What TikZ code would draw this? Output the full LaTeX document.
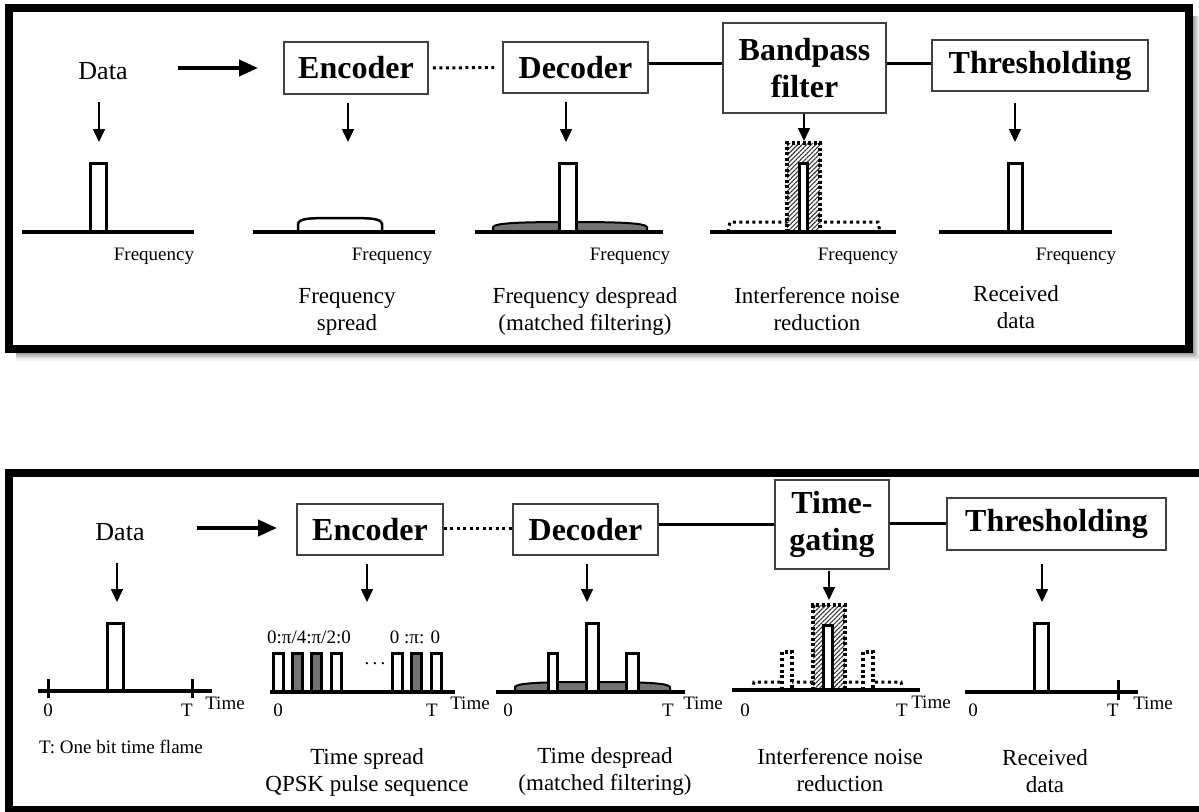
\documentclass[tikz,border=0pt]{standalone}
\usepackage{fontspec}
\setmainfont{Liberation Serif}
\usetikzlibrary{arrows.meta,patterns.meta}
\newcommand\FData{\fontsize{26}{28}\selectfont}
\newcommand\FBx{\fontsize{32}{37}\selectfont\bfseries}
\newcommand\FAx{\fontsize{19}{21}\selectfont}
\newcommand\FCap{\fontsize{23}{27}\selectfont}
\begin{document}
\begin{tikzpicture}[x=1pt,y=-1pt,
  box/.style={draw=black!75, line width=1.8pt, fill=white, font=\FBx, inner sep=0pt, align=center},
  lbl/.style={font=\FData, inner sep=0pt},
  ax/.style={font=\FAx, inner sep=0pt},
  captxt/.style={font=\FCap, align=center, inner sep=0pt},
  darr/.style={line width=1.6pt, -{Triangle[length=13pt,width=12pt]}},
  bigarr/.style={line width=4pt, -{Triangle[length=19pt,width=16pt]}},
  baseln/.style={line width=3.5pt},
  pulse/.style={line width=3pt, fill=white},
  gpulse/.style={line width=3pt, fill=black!55},
  dotl/.style={line width=3pt, dash pattern=on 3pt off 3.5pt},
  dotp/.style={line width=3.2pt, dash pattern=on 3pt off 2.8pt},
  hatch/.style={pattern={Lines[angle=45,distance=3.2pt,line width=1.1pt]}, pattern color=black!80, line width=3.5pt, dash pattern=on 3pt off 2.5pt},
  frm/.style={line width=8pt},
  conn/.style={line width=3pt}
]
\useasboundingbox (0,0) rectangle (1199,811);
\clip (0,0) rectangle (1199,811);
\fill[white] (0,0) rectangle (1199,811);

% ---------- frames ----------
\foreach \i/\g in {1/38,2/32,3/26,4/20,5/14,6/9,7/5}{
  \draw[black!\g, line width=1.2pt] (16,353+\i) -- (1193+\i,353+\i) -- (1193+\i,16);
}
\draw[frm] (9,8) rectangle (1189,349);
\draw[frm] (9,473) rectangle (1212,810);

% ================= TOP PANEL =================
\node[lbl] (data) at (103,71) {Data};
\node[box, minimum width=144pt, minimum height=52pt] (enc) at (356,68) {Encoder};
\node[box, minimum width=145pt, minimum height=51pt] (dec) at (575.5,67.5) {Decoder};
\node[box, minimum width=163pt, minimum height=90pt] (bpf) at (804.5,68) {Bandpass\\filter};
\node[box, minimum width=216pt, minimum height=51pt] (thr) at (1040,65.5) {Thresholding};

\coordinate (ha) at (178,68);
\coordinate (hb) at (258,68);
\draw[bigarr] (ha) -- (hb);
\draw[dotl] ([xshift=4pt]enc.east) -- ([xshift=-8pt]dec.west);
\draw[conn] ([yshift=4.5pt]dec.east) -- ([yshift=4.5pt]dec.east -| bpf.west);
\draw[conn] ([yshift=2.5pt]thr.west -| bpf.east) -- ([yshift=2.5pt]thr.west);

% down arrows
\coordinate (t1s) at (99,102);  \coordinate (t1e) at (99,142);
\coordinate (t2e) at (348,142);
\coordinate (t3e) at (566,142);
\coordinate (t4e) at (804,141);
\coordinate (t5e) at (1015,142);
\draw[darr] (t1s) -- (t1e);
\draw[darr] ([xshift=-8pt,yshift=-8pt]enc.south) -- (t2e);
\draw[darr] ([xshift=-9.5pt,yshift=-8.5pt]dec.south) -- (t3e);
\draw[darr] ([xshift=-0.5pt]bpf.south) -- (t4e);
\draw[darr] ([xshift=-25pt,yshift=-11pt]thr.south) -- (t5e);

% plot 1
\draw[pulse] (90,232) -- (90,163) -- (106,163) -- (106,232);
\draw[baseln] (22,232) -- (194,232);
% plot 2
\draw[line width=2.5pt, fill=white] (298,232) -- (298,224) .. controls (299,218) and (310,218) .. (340,218) .. controls (370,218) and (381,218) .. (382,224) -- (382,232);
\draw[baseln] (253,232) -- (435,232);
% plot 3
\draw[line width=2pt, fill=black!55] (493,232) -- (493,227) .. controls (495,223) and (520,222) .. (570,222) .. controls (620,222) and (645,223) .. (647,227) -- (647,232);
\draw[pulse] (559,232) -- (559,163) -- (576,163) -- (576,232);
\draw[baseln] (475,232) -- (663,232);
% plot 4
\draw[dotl] (728,232) -- (730,222) -- (878,222) -- (880,232);
\fill[white] (787,143) rectangle (820,232);
\draw[hatch] (787,232) -- (787,143) -- (820,143) -- (820,232);
\draw[pulse] (799,232) -- (799,163) -- (807,163) -- (807,232);
\draw[baseln] (710,232) -- (896,232);
% plot 5
\draw[pulse] (1008,232) -- (1008,163) -- (1022,163) -- (1022,232);
\draw[baseln] (939,232) -- (1112,232);

% labels
\node[ax] (f1) at (154,256) {Frequency};
\node[ax] (f2) at (392,256) {Frequency};
\node[ax] (f3) at (630,256) {Frequency};
\node[ax] (f4) at (858,256) {Frequency};
\node[ax] (f5) at (1076,256) {Frequency};
\node[captxt] (c2) at (347,311.5) {Frequency\\spread};
\node[captxt] (c3) at (585,311) {Frequency despread\\(matched filtering)};
\node[captxt] (c4) at (817,309.5) {Interference noise\\reduction};
\node[captxt] (c5) at (1016,307) {Received\\data};

% ================= BOTTOM PANEL =================
\node[lbl] (data2) at (120,532) {Data};
\node[box, minimum width=146pt, minimum height=51pt] (enc2) at (370,529.5) {Encoder};
\node[box, minimum width=145pt, minimum height=51pt] (dec2) at (585.5,529.5) {Decoder};
\node[box, minimum width=114pt, minimum height=89pt] (tg) at (832,524.5) {Time-\\gating};
\node[box, minimum width=219pt, minimum height=52pt] (thr2) at (1056.5,524) {Thresholding};

\coordinate (ha2) at (197,528);
\coordinate (hb2) at (277,528);
\draw[bigarr] (ha2) -- (hb2);
\draw[dotl] ([yshift=1.5pt]enc2.east) -- ([yshift=1.5pt]dec2.west);
\draw[conn] ([yshift=5.5pt]dec2.east) -- ([yshift=5.5pt]dec2.east -| tg.west);
\draw[conn] ([yshift=1pt]thr2.west -| tg.east) -- ([yshift=1pt]thr2.west);

\coordinate (b1s) at (117,563);  \coordinate (b1e) at (117,602);
\coordinate (b2e) at (367,602);
\coordinate (b3e) at (587,602);
\coordinate (b4e) at (829,600);
\coordinate (b5e) at (1042,602);
\draw[darr] (b1s) -- (b1e);
\draw[darr] ([xshift=-3pt,yshift=-8pt]enc2.south) -- (b2e);
\draw[darr] ([xshift=1.5pt,yshift=-8pt]dec2.south) -- (b3e);
\draw[darr] ([xshift=-3pt,yshift=-1pt]tg.south) -- (b4e);
\draw[darr] ([xshift=-14.5pt,yshift=-13pt]thr2.south) -- (b5e);

% plot 1
\draw[pulse] (107,691) -- (107,623) -- (123,623) -- (123,691);
\draw[baseln] (38,691) -- (212,691);
\draw[line width=3pt] (48,679) -- (48,698);
\draw[line width=3pt] (192,679) -- (192,698);
\node[ax] (z1) at (48,710) {0};
\node[ax] (T1) at (187,710) {T};
\node[ax] (tm1) at (225,703) {Time};
\node[ax, anchor=west] (note) at (39,747) {T: One bit time flame};

% plot 2 : pulse sequence
\foreach \a/\f in {273/pulse,292/gpulse,311/gpulse,331/pulse,392/pulse,411/gpulse,431/pulse}{
  \draw[\f] (\a,692) -- (\a,653) -- (\a+10,653) -- (\a+10,692);
}
\draw[baseln] (270,692) -- (455,692);
\node[ax] (ph1) at (309,637) {0:π/4:π/2:0};
\node[ax] (ph2) at (415,637) {0 :π: 0};
\node[ax] (dots) at (375,664) {.\,.\,.};
\node[ax] (z2) at (278,710) {0};
\node[ax] (T2) at (432,710) {T};
\node[ax] (tm2) at (470,703) {Time};

% plot 3
\draw[line width=2pt, fill=black!55] (515,692) -- (515,687) .. controls (517,683) and (540,682) .. (592,682) .. controls (645,682) and (668,683) .. (670,687) -- (670,692);
\draw[pulse] (548,692) -- (548,653) -- (557,653) -- (557,692);
\draw[pulse] (586,692) -- (586,623) -- (598,623) -- (598,692);
\draw[pulse] (626,692) -- (626,653) -- (638,653) -- (638,692);
\draw[baseln] (496,692) -- (685,692);
\node[ax] (z3) at (508,710) {0};
\node[ax] (T3) at (668,710) {T};
\node[ax] (tm3) at (703,703) {Time};

% plot 4
\draw[dotl] (752,691) -- (754,682) -- (901,682) -- (903,691);
\fill[white] (782,652) rectangle (792,689);
\fill[white] (863,652) rectangle (873,689);
\draw[dotp] (782,690) -- (782,652) -- (792,652) -- (792,690);
\draw[dotp] (863,690) -- (863,652) -- (873,652) -- (873,690);
\fill[white] (813,605) rectangle (845,690);
\draw[hatch] (813,690) -- (813,605) -- (845,605) -- (845,690);
\draw[pulse] (823,690) -- (823,625) -- (832,625) -- (832,690);
\draw[baseln] (732,690) -- (920,690);
\node[ax] (z4) at (745,710) {0};
\node[ax] (T4) at (902,710) {T};
\node[ax] (tm4) at (931,702) {Time};

% plot 5
\draw[pulse] (1034,692) -- (1034,623) -- (1048,623) -- (1048,692);
\draw[baseln] (965,692) -- (1138,692);
\draw[line width=3pt] (1118,680) -- (1118,700);
\node[ax] (z5) at (973,710) {0};
\node[ax] (T5) at (1113,710) {T};
\node[ax] (tm5) at (1153,703) {Time};

% captions
\node[captxt] (d2) at (367,772) {Time spread\\QPSK pulse sequence};
\node[captxt] (d3) at (605,771.5) {Time despread\\(matched filtering)};
\node[captxt] (d4) at (840,770) {Interference noise\\reduction};
\node[captxt] (d5) at (1045,771) {Received\\data};
\end{tikzpicture}
\end{document}
